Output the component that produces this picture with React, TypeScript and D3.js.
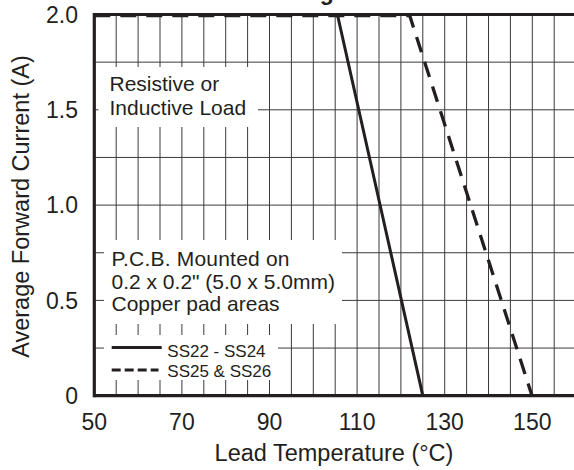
import React from 'react';
import * as d3 from 'd3';

// chart values
const tempTicks = [50, 70, 90, 110, 130, 150];
const currentTicks = [0, 0.5, 1.0, 1.5, 2.0];
const currentTickLabels = ['0', '0.5', '1.0', '1.5', '2.0'];
const gridTemps = [55, 60, 65, 70, 75, 80, 85, 90, 95, 100, 105, 110, 115, 120, 125, 130, 135, 140, 145, 150, 155];
const gridCurrents = [0.25, 0.5, 0.75, 1.0, 1.25, 1.5, 1.75];

const ss22Temp = [50, 105.5, 125];
const ss22Current = [2.0, 2.0, 0];
const ss25Temp = [50, 122, 150];
const ss25Current = [2.0, 2.0, 0];

const seriesNames = ['SS22 - SS24', 'SS25 & SS26'];

const font = 'Liberation Sans, Arial, Helvetica, sans-serif';

const App = () => {
  const width = 574;
  const height = 470;
  const margin = { top: 14.5, left: 94.3, bottom: 395.7 };

  const x = d3.scaleLinear().domain([50, 160]).range([margin.left, margin.left + 110 * 4.38]);
  const y = d3.scaleLinear().domain([0, 2.0]).range([margin.bottom, margin.top]);

  const line = d3.line<[number, number]>()
    .x(d => x(d[0]))
    .y(d => y(d[1]));

  const ss22 = line(ss22Temp.map((t, i) => [t, ss22Current[i]] as [number, number]));
  const ss25 = line(ss25Temp.map((t, i) => [t, ss25Current[i]] as [number, number]));

  const right = x(160);

  return (
    <div style={{ position: 'fixed', left: 0, top: 0 }}>
      <svg width={width} height={height} style={{ display: 'block', background: '#fff' }} fontFamily={font}>
        {/* title sits above the page, only the descender of the g shows */}
        <text x={54} y={-0.5} fontSize={23} fontWeight="bold" fill="#231f20">Forward Current Derating Curve</text>

        {/* grid */}
        <g stroke="#3a3a3a" strokeWidth={1}>
          {gridTemps.map(t => (
            <line key={'v' + t} x1={x(t)} x2={x(t)} y1={y(2)} y2={y(0)} />
          ))}
          {gridCurrents.map(c => (
            <line key={'h' + c} x1={margin.left} x2={right} y1={y(c)} y2={y(c)} />
          ))}
        </g>

        {/* annotation boxes */}
        <rect x={98.5} y={67} width={159.5} height={60} fill="#fff" />
        <rect x={104} y={240} width={238} height={84} fill="#fff" />
        <rect x={104} y={335} width={174} height={45} fill="#fff" />

        <g fill="#231f20" fontSize={21}>
          <text x={109.5} y={90.7}>Resistive or</text>
          <text x={109.5} y={115}>Inductive Load</text>
          <text x={111.5} y={266} textLength={178} lengthAdjust="spacing">P.C.B. Mounted on</text>
          <text x={111.5} y={288.5}>0.2 x 0.2" (5.0 x 5.0mm)</text>
          <text x={111.5} y={311}>Copper pad areas</text>
        </g>

        {/* legend */}
        <line x1={111.7} x2={161.7} y1={347.5} y2={347.5} stroke="#231f20" strokeWidth={3} />
        <line x1={111.7} x2={158.5} y1={370} y2={370} stroke="#231f20" strokeWidth={3} strokeDasharray="9,4" />
        <g fill="#231f20" fontSize={17}>
          <text x={167.3} y={356.5}>{seriesNames[0]}</text>
          <text x={167.3} y={376.5}>{seriesNames[1]}</text>
        </g>

        {/* derating curves */}
        <path d={ss25 ?? ''} fill="none" stroke="#231f20" strokeWidth={3.3} strokeDasharray="16,10" transform="translate(0,1)" />
        <path d={ss22 ?? ''} fill="none" stroke="#231f20" strokeWidth={3} />

        {/* frame */}
        <g stroke="#231f20" strokeWidth={3.2}>
          <line x1={margin.left} x2={right + 2} y1={y(2)} y2={y(2)} />
          <line x1={margin.left} x2={margin.left} y1={y(2) - 1.6} y2={y(0) + 1.6} />
          <line x1={margin.left} x2={right + 2} y1={y(0)} y2={y(0)} />
        </g>

        {/* y tick labels */}
        <g fill="#231f20" fontSize={23} textAnchor="end">
          {currentTicks.map((c, i) => (
            <text key={c} x={78} y={y(c)} dy="0.36em">{currentTickLabels[i]}</text>
          ))}
        </g>

        {/* x tick labels */}
        <g fill="#231f20" fontSize={23} textAnchor="middle">
          {tempTicks.map(t => (
            <text key={t} x={x(t)} y={430}>{t}</text>
          ))}
        </g>

        <text x={334} y={461} fontSize={23.5} textAnchor="middle" fill="#231f20">Lead Temperature (°C)</text>
        <text transform={`translate(28.5,${206.5}) rotate(-90)`} fontSize={23.5} textAnchor="middle" fill="#231f20">
          Average Forward Current (A)
        </text>
      </svg>
    </div>
  );
};

export default App;
